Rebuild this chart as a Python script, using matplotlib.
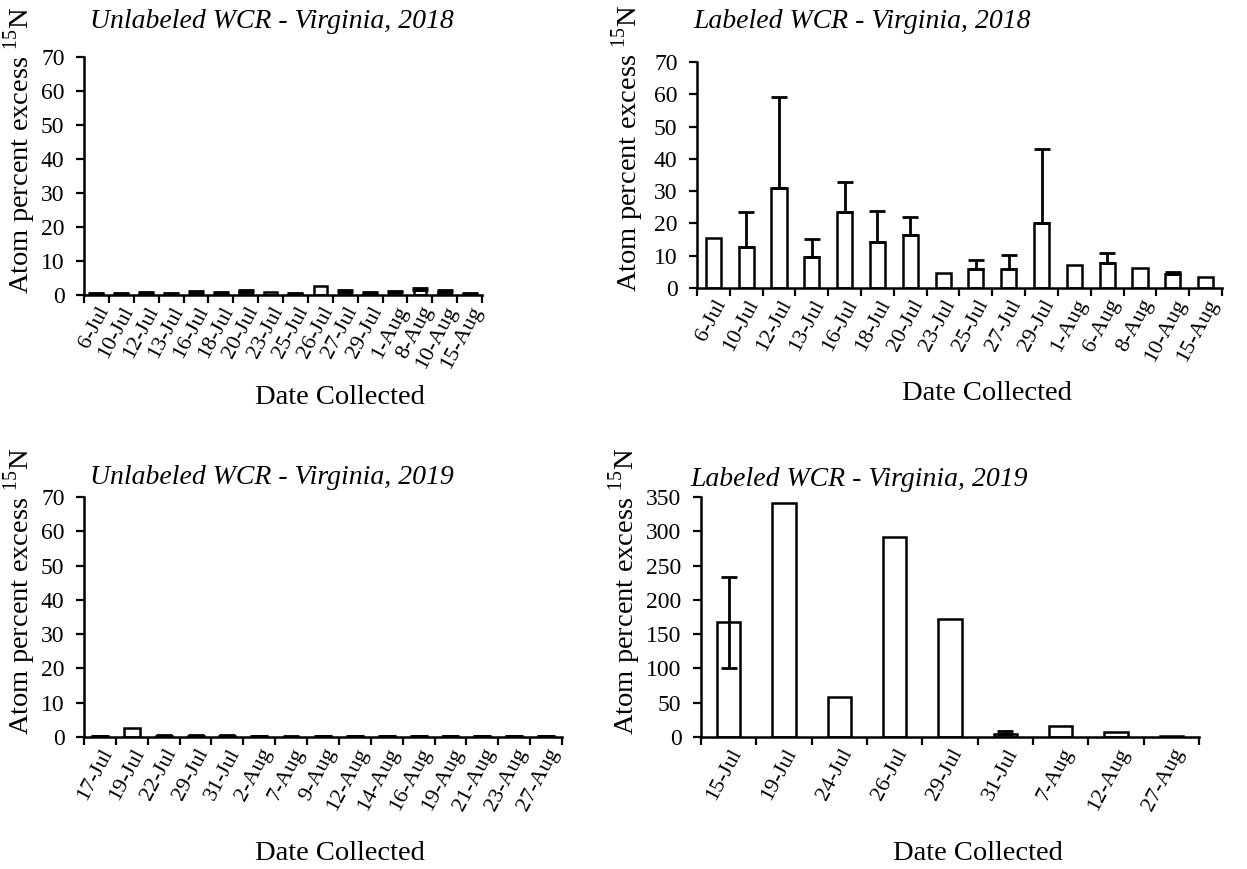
import matplotlib
matplotlib.use("Agg")
import matplotlib.pyplot as plt
import numpy as np

plt.rcParams['font.family'] = ['Liberation Serif', 'DejaVu Serif']
plt.rcParams['mathtext.fontset'] = 'custom'
plt.rcParams['mathtext.rm'] = 'Liberation Serif'

# ---- data ----
ul18_dates = ["6-Jul", "10-Jul", "12-Jul", "13-Jul", "16-Jul", "18-Jul", "20-Jul", "23-Jul",
              "25-Jul", "26-Jul", "27-Jul", "29-Jul", "1-Aug", "8-Aug", "10-Aug", "15-Aug"]
ul18_vals = [0.3, 0.3, 0.5, 0.3, 0.7, 0.5, 0.8, 0.8, 0.4, 2.6, 0.9, 0.6, 0.8, 1.4, 1.0, 0.3]
ul18_err = [0.2, 0.2, 0.3, 0.2, 0.5, 0.3, 0.6, 0.0, 0.3, 0.0, 0.6, 0.3, 0.5, 0.8, 0.4, 0.2]

l18_dates = ["6-Jul", "10-Jul", "12-Jul", "13-Jul", "16-Jul", "18-Jul", "20-Jul", "23-Jul",
             "25-Jul", "27-Jul", "29-Jul", "1-Aug", "6-Aug", "8-Aug", "10-Aug", "15-Aug"]
l18_vals = [15.5, 12.7, 31.0, 9.6, 23.5, 14.2, 16.5, 4.5, 5.8, 5.8, 20.2, 7.0, 7.8, 6.3, 4.2, 3.5]
l18_err = [0.0, 10.8, 28.1, 5.5, 9.3, 9.5, 5.6, 0.0, 2.8, 4.4, 22.8, 0.0, 2.9, 0.0, 0.9, 0.0]

ul19_dates = ["17-Jul", "19-Jul", "22-Jul", "29-Jul", "31-Jul", "2-Aug", "7-Aug", "9-Aug",
              "12-Aug", "14-Aug", "16-Aug", "19-Aug", "21-Aug", "23-Aug", "27-Aug"]
ul19_vals = [0.2, 2.5, 0.3, 0.3, 0.4, 0.2, 0.1, 0.3, 0.3, 0.3, 0.3, 0.3, 0.3, 0.3, 0.3]
ul19_err = [0.1, 0.0, 0.2, 0.2, 0.3, 0.1, 0.1, 0.1, 0.1, 0.1, 0.1, 0.1, 0.1, 0.1, 0.1]

l19_dates = ["15-Jul", "19-Jul", "24-Jul", "26-Jul", "29-Jul", "31-Jul", "7-Aug", "12-Aug", "27-Aug"]
l19_vals = [168, 341, 59, 291, 172, 5, 16.5, 7.5, 1.5]
l19_err_low = [67, 0, 0, 0, 0, 0, 0, 0, 0]
l19_err_up = [65, 0, 0, 0, 0, 3.5, 0, 0, 0]

titles = ["Unlabeled WCR - Virginia, 2018", "Labeled WCR - Virginia, 2018",
          "Unlabeled WCR - Virginia, 2019", "Labeled WCR - Virginia, 2019"]

W, H = 1247, 869
fig = plt.figure(figsize=(W / 100, H / 100), dpi=100)

TICK_FS = 16
LAB_FS = 20.5
TITLE_FS = 20


def add_ax(l, r, top, bottom):
    return fig.add_axes([l / W, 1 - bottom / H, (r - l) / W, (bottom - top) / H])


def panel(box, dates, vals, err_lo, err_up, ymax, ystep, width, title, title_xy,
          ylab_xy, xlab_xy):
    ax = add_ax(*box)
    n = len(dates)
    x = np.arange(n)
    ax.bar(x, vals, width=width, color='white', edgecolor='black', linewidth=1.8, zorder=2)
    lo = np.asarray(err_lo, dtype=float)
    up = np.asarray(err_up, dtype=float)
    m = (lo > 0) | (up > 0)
    ax.errorbar(x[m], np.asarray(vals, dtype=float)[m], yerr=[lo[m], up[m]], fmt='none',
                ecolor='black', elinewidth=2, capsize=6, capthick=2, zorder=3)
    ax.set_xlim(-0.5, n - 0.5)
    ax.set_ylim(0, ymax)
    ax.set_yticks(np.arange(0, ymax + 1, ystep))
    ax.set_xticks(np.arange(n + 1) - 0.5)
    ax.set_xticklabels([])
    ax.set_xticks(x, minor=True)
    ax.set_xticklabels(dates, minor=True, rotation=62, ha='right', rotation_mode='anchor',
                       fontsize=TICK_FS)
    ax.tick_params(axis='x', which='minor', length=0, pad=6)
    ax.tick_params(axis='x', which='major', length=6, width=1.6, direction='out')
    ax.tick_params(axis='y', length=6, width=1.6, direction='out', labelsize=TICK_FS + 1, pad=8)
    for s in ['top', 'right']:
        ax.spines[s].set_visible(False)
    for s in ['left', 'bottom']:
        ax.spines[s].set_linewidth(1.8)
    fig.text(title_xy[0] / W, 1 - title_xy[1] / H, title, fontsize=TITLE_FS, style='italic',
             ha='left', va='center')
    fig.text(ylab_xy[0] / W, 1 - ylab_xy[1] / H, r'Atom percent excess $^{15}$N',
             rotation=90, fontsize=LAB_FS, ha='center', va='center')
    fig.text(xlab_xy[0] / W, 1 - xlab_xy[1] / H, 'Date Collected', fontsize=LAB_FS,
             ha='center', va='center')
    return ax


z16 = np.zeros(16)
panel((84, 482, 57, 295), ul18_dates, ul18_vals, z16, ul18_err, 70, 10, 0.5,
      titles[0], (90, 22), (20, 150), (340, 398))
panel((697, 1222, 62, 288), l18_dates, l18_vals, z16, l18_err, 70, 10, 0.46,
      titles[1], (693, 22), (628, 148), (987, 394))
panel((84, 562, 497, 737), ul19_dates, ul19_vals, np.zeros(15), ul19_err, 70, 10, 0.5,
      titles[2], (90, 477), (20, 591), (340, 853))
panel((701, 1199, 497, 737), l19_dates, l19_vals, l19_err_low, l19_err_up, 350, 50, 0.42,
      titles[3], (690, 480), (625, 591), (978, 853))

fig.savefig("out.png", dpi=100)
